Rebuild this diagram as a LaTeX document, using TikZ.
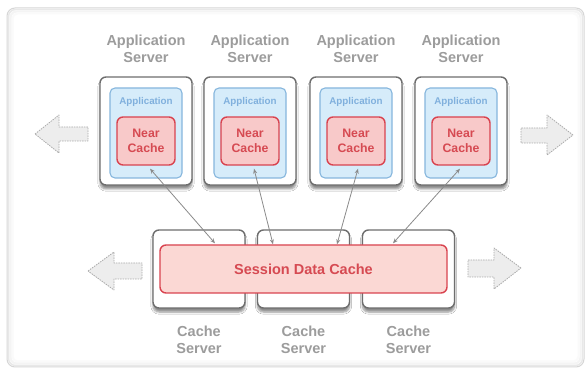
\documentclass[tikz,border=0pt]{standalone}
\usepackage{fontspec}
\setmainfont{Liberation Sans}
\usetikzlibrary{shadows.blur,arrows.meta,calc}
\definecolor{lblgray}{HTML}{9C9C9C}
\definecolor{srvborder}{HTML}{6E6E6E}
\definecolor{bluefill}{HTML}{D6ECFA}
\definecolor{blueline}{HTML}{86B6DD}
\definecolor{bluetext}{HTML}{80B0DD}
\definecolor{redfill}{HTML}{F8C9C9}
\definecolor{redline}{HTML}{D9434F}
\definecolor{redtext}{HTML}{D64A52}
\definecolor{sessfill}{HTML}{FBD8D4}
\definecolor{arrfill}{HTML}{EDEDED}
\definecolor{arrline}{HTML}{ABABAB}
\definecolor{connline}{HTML}{8A8A8A}
\tikzset{
  srvbox/.style={draw=srvborder, line width=1.4pt, fill=white, rounded corners=6pt,
    minimum width=92pt, inner sep=0pt,
    blur shadow={shadow xshift=0pt, shadow yshift=-4pt, shadow blur steps=6, shadow opacity=45}},
  appbox/.style={draw=blueline, line width=1.1pt, fill=bluefill, rounded corners=5pt,
    minimum width=72pt, minimum height=90pt, inner sep=0pt},
  ncbox/.style={draw=redline, line width=1.4pt, fill=redfill, rounded corners=6pt,
    minimum width=58pt, minimum height=48pt, inner sep=0pt, align=center,
    text=redtext, font=\fontsize{12.3}{15}\selectfont\bfseries},
  sessbox/.style={draw=redline, line width=1.4pt, fill=sessfill, rounded corners=6pt,
    minimum width=287pt, minimum height=48pt, inner sep=0pt,
    text=redtext, font=\fontsize{14.5}{17}\selectfont\bfseries},
  lbl/.style={text=lblgray, align=center, inner sep=0pt,
    font=\fontsize{14.5}{17}\selectfont\bfseries},
  applbl/.style={text=bluetext, inner sep=0pt, font=\fontsize{9.8}{11}\selectfont\bfseries},
  blockarr/.style={draw=arrline, dashed, dash pattern=on 1.5pt off 1pt, line width=0.8pt,
    fill=arrfill, line join=round},
  conn/.style={draw=connline, line width=0.8pt, {Stealth[length=5pt,width=4pt]}-{Stealth[length=5pt,width=4pt]}}
}
\begin{document}
\begin{tikzpicture}[x=1pt,y=-1pt]
\useasboundingbox (0,0) rectangle (587,371);
% panel with soft inner border
\fill[white] (0,0) rectangle (587,371);
\draw[gray!32, line width=1pt, rounded corners=8pt] (7,8) rectangle (584,367);
\draw[gray!18, line width=1.5pt, rounded corners=7pt] (8.5,9.5) rectangle (582.5,365.5);
\draw[gray!9, line width=2pt, rounded corners=6pt] (10.5,11.5) rectangle (580.5,363.5);
\draw[gray!4, line width=2pt, rounded corners=5pt] (12.5,13.5) rectangle (578.5,361.5);

% application servers
\foreach \i/\cx in {1/146,2/250,3/356,4/461}{
  \node[lbl] (al\i) at (\cx,48.5) {Application\\Server};
  \node[srvbox, minimum height=108pt] (as\i) at (\cx,131) {};
  \node[appbox] (ap\i) at (\cx,133) {};
  \node[applbl] (apt\i) at (\cx,102) {Application};
  \node[ncbox] (nc\i) at (\cx,141) {Near\\Cache};
}

% cache servers
\foreach \i/\cx in {1/199,2/303.5,3/408.5}{
  \node[srvbox, minimum height=78pt] (cs\i) at (\cx,269) {};
  \node[lbl] (cl\i) at (\cx,339.5) {Cache\\Server};
}
\node[sessbox] (sdc) at (303.5,269) {Session Data Cache};

% connectors
\draw[conn] ([xshift=4pt,yshift=-3pt]nc1.south) -- ([xshift=-88.5pt,yshift=1pt]sdc.north);
\draw[conn] ([xshift=4pt,yshift=-3pt]nc2.south) -- ([xshift=-30.5pt,yshift=0pt]sdc.north);
\draw[conn] ([xshift=2pt,yshift=-3pt]nc3.south) -- ([xshift=33.5pt,yshift=0pt]sdc.north);
\draw[conn] ([xshift=-1pt,yshift=-3pt]nc4.south) -- ([xshift=89.5pt,yshift=1pt]sdc.north);

% block arrows
\draw[blockarr] (35,134) -- (59,115) -- (59,127) -- (88,127) -- (88,141) -- (59,141) -- (59,153) -- cycle;
\draw[blockarr] (573,135) -- (547,115) -- (547,128) -- (521,128) -- (521,143) -- (547,143) -- (547,155) -- cycle;
\draw[blockarr] (88,271) -- (114,252) -- (114,263) -- (142,263) -- (142,279) -- (114,279) -- (114,290) -- cycle;
\draw[blockarr] (521,268) -- (494,248) -- (494,260) -- (468,260) -- (468,277) -- (494,277) -- (494,289) -- cycle;
\end{tikzpicture}
\end{document}
